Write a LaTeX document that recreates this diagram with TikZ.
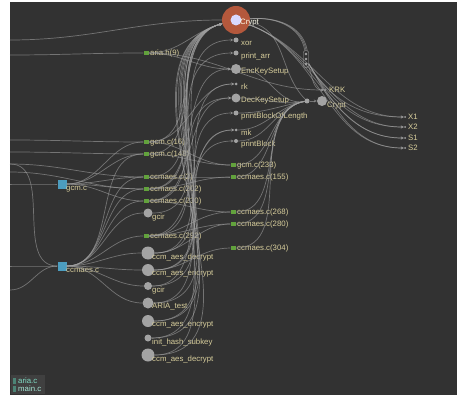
\documentclass[tikz,border=0pt]{standalone}
\usepackage{fontspec}
\setmainfont{Liberation Sans}
\usepackage{tikz}
\usetikzlibrary{calc,arrows.meta}

\definecolor{bgdark}{HTML}{323232}
\definecolor{linkgray}{HTML}{A0A0A0}
\definecolor{lblbeige}{HTML}{D8CE9C}
\definecolor{refgreen}{HTML}{62A23C}
\definecolor{fngray}{HTML}{A3A3A3}
\definecolor{fileblue}{HTML}{4C9DBF}
\definecolor{cryptring}{HTML}{B4583C}
\definecolor{legteal}{HTML}{7FDCC4}

\tikzset{
  link/.style={draw=linkgray, opacity=0.6, line width=0.7pt},
  tip/.style={-{Stealth[length=3pt,width=3pt]}},
  gref/.style={fill=refgreen, minimum width=5pt, minimum height=4pt, inner sep=0pt},
  fnc/.style={circle, fill=fngray, inner sep=0pt},
  fsq/.style={fill=fileblue, minimum size=9pt, inner sep=0pt},
  lbl/.style={anchor=west, inner sep=0pt, text=lblbeige, font=\fontsize{7.8}{8}\selectfont},
}

\begin{document}
\begin{tikzpicture}[x=1pt, y=-1pt]
      % frame
      \useasboundingbox (0,0) rectangle (457,398);
      \fill[bgdark] (10,2) rectangle (457,395);

      % file squares
      \node[fsq] (gcmc) at (62,184) {};
      \node[lbl] (gcmc-t) at (66,189) {gcm.c};
      \node[fsq] (ccmaesc) at (62,266) {};
      \node[lbl] (ccmaesc-t) at (66,270) {ccmaes.c};

      % left column, references
      \foreach \n/\y/\t in {ariah/53/{aria.h(9)}, g16/142/{gcm.c(16)}, g148/154/{gcm.c(148)},
          c2/177/{ccmaes.c(2)}, c202/189/{ccmaes.c(202)}, c230/201/{ccmaes.c(230)}, c292/236/{ccmaes.c(292)}}
      {
        \node[gref] (\n) at (146,\y) {};
        \node[lbl] (\n-t) at (150,\y) {\t};
      }

      % left column, functions
      \foreach \n/\y/\r/\t in {gcira/213/4.5/gcir, ccmdeca/253/6.5/ccm\_aes\_decrypt, ccmenca/270/6/ccm\_aes\_encrypt,
          gcirb/286/4/gcir, ariatest/303/5.5/ARIA\_test, ccmencb/321/6/ccm\_aes\_encrypt,
          inithash/338/3.5/init\_hash\_subkey, ccmdecb/355/6.5/ccm\_aes\_decrypt}
      {
        \node[fnc, minimum size=2*\r pt] (\n) at (148,\y) {};
        \node[lbl] (\n-t) at (152,\y+4) {\t};
      }

      % top crypt
      \node[circle, fill=cryptring, minimum size=28pt, inner sep=0pt] (crypt) at (236,20) {};
      \node[circle, fill=white!85!blue, minimum size=11pt, inner sep=0pt] (crypt-in) at (236,20) {};
      \node[lbl, text=white!92!yellow] (crypt-t) at (240,23) {Crypt};

      % right column, functions
      \foreach \n/\y/\r/\t in {xor/40/2.5/xor, printarr/53/2.5/print\_arr, enckey/69/5/EncKeySetup,
          rk/84/1.5/rk, deckey/98/4.5/DecKeySetup, pbol/113/2.5/printBlockOfLength,
          mk/130/1.5/mk, pblock/141/2/printBlock}
      {
        \node[fnc, minimum size=2*\r pt] (\n) at (236,\y) {};
        \node[lbl] (\n-t) at (241,\y+3) {\t};
      }

      % right column, references
      \foreach \n/\y/\t in {g233/165/{gcm.c(233)}, c155/177/{ccmaes.c(155)}, c268/212/{ccmaes.c(268)},
          c280/224/{ccmaes.c(280)}, c304/248/{ccmaes.c(304)}}
      {
        \node[gref] (\n) at (233,\y) {};
        \node[lbl] (\n-t) at (237,\y) {\t};
      }

      % far right
      \node[fnc, minimum size=5pt] (hub) at (307,101) {};
      \node[fnc, minimum size=10pt] (crypttwo) at (322,101) {};
      \node[lbl] (crypttwo-t) at (327,106) {Crypt};
      \node[fnc, minimum size=2pt] (krk) at (325,90) {};
      \node[lbl] (krk-t) at (329,90) {KRK};
      \node[draw=fngray, rounded corners=2pt, minimum width=5pt, minimum height=17pt, inner sep=0pt] (box) at (306,59) {};
      \foreach \d in {-5,0,5}
        \fill[fngray] ($(box)+(0,\d)$) circle (1.3);
      \foreach \n/\y/\t in {xone/117/X1, xtwo/127/X2, sone/138/S1, stwo/148/S2}
      {
        \node[fnc, minimum size=2pt] (\n) at (405,\y) {};
        \node[lbl] (\n-t) at (408,\y) {\t};
      }

      % loose ends on the left border
      \foreach \n/\y in {ea/40, eb/55, ec/140, ed/152, ee/164, ef/172, eg/184, eh/266, ei/290}
        \coordinate (\n) at (10,\y);

      % links from the border
      \foreach \a/\b in {eb/ariah, ea/crypt, ec/g16, ed/g148, ee/c2, ef/c202, eg/gcmc, eh/ccmaesc, ee/ccmaesc, ei/ccmaesc}
        \draw[link] (\a) to[out=0, in=180] (\b);

      % links from the files
      \foreach \b in {g16, g148, c2, c202, c230}
        \draw[link] (gcmc) to[out=0, in=180] (\b);
      \foreach \b in {c2, c202, c230, c292, gcira, ccmdeca, ccmenca, gcirb, ariatest, g148}
        \draw[link] (ccmaesc) to[out=0, in=180] (\b);

      % links into the top crypt
      \foreach \a in {ariah, g16, g148, c2, c202, c230, gcira, c292, ccmdeca, ccmenca, gcirb, ariatest, ccmencb, inithash, ccmdecb}
        \draw[link, tip] (\a) to[out=0, in=195] (crypt);

      % links into the right functions
      \foreach \a/\b in {ariah/enckey, c202/enckey, c230/deckey, ccmdeca/rk, ccmenca/xor, ccmencb/printarr,
          ariatest/pbol, gcirb/mk, ccmdecb/pblock, inithash/deckey, g16/rk, c292/mk}
        \draw[link, tip] (\a) to[out=0, in=180] (\b);

      % links into the right references
      \foreach \a/\b in {g16/g233, g148/g233, c2/c155, c202/c155, c292/c268, c292/c280, ccmdeca/c280, ccmenca/c304, c230/c268}
        \draw[link] (\a) to[out=0, in=180] (\b);

      % links into the hub
      \foreach \a in {g233, c155, c268, c280, c304, deckey, pbol, pblock, mk, enckey}
        \draw[link] (\a) to[out=0, in=190] (hub);
      \draw[link, tip] (hub) -- (crypttwo);
      \draw[link, tip] (ariah) to[out=0, in=180] (krk);
      \draw[link] (crypt) to[out=-10, in=135] (hub);

      % crypt to the sboxes
      \foreach \d in {-4,0,4}
        \draw[link] (crypt) to[out=5, in=100] ($(box.north)+(\d*0.3,0)$);
      \draw[link, tip] (box) to[out=-70, in=180] (krk);
      \foreach \b in {xone, xtwo, sone, stwo}
      {
        \draw[link, tip] (box) to[out=-60, in=180] (\b);
        \draw[link, tip] (crypt) to[out=-20, in=180] (\b);
      }

      % legend
      \fill[black!75] (11,375) rectangle (45,394);
      \fill[legteal!60!black] (13,378) rectangle (16,384);
      \fill[legteal!60!black] (13,386) rectangle (16,392);
      \node[lbl, text=legteal] (leg-a) at (18,381) {aria.c};
      \node[lbl, text=legteal!70!white] (leg-b) at (18,389) {main.c};
\end{tikzpicture}
\end{document}
